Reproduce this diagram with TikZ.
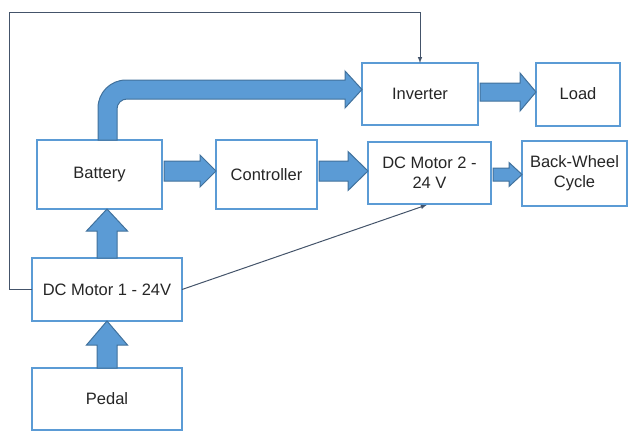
\documentclass[tikz,border=0pt]{standalone}
\usepackage{fontspec}
\setmainfont{Liberation Sans}
\usetikzlibrary{arrows, positioning, calc}
\definecolor{boxblue}{RGB}{91,155,213}
\definecolor{arrowedge}{RGB}{65,113,156}
\definecolor{signalgray}{RGB}{68,84,106}

% wide block arrow pointing right: source, target, vertical offset, half shaft, half head, head length
\newcommand{\fatright}[6]{%
  \draw[fatarrow] let \p1=($(#1.east)+(2pt,#3)$), \p2=(#2.west) in
    (\x1,\y1+#4) -- (\x2-#6,\y1+#4) -- (\x2-#6,\y1+#5) -- (\x2,\y1)
    -- (\x2-#6,\y1-#5) -- (\x2-#6,\y1-#4) -- (\x1,\y1-#4) -- cycle;}
% wide block arrow pointing up
\newcommand{\fatup}[6]{%
  \draw[fatarrow] let \p1=($(#1.north)+(#3,0pt)$), \p2=(#2.south) in
    (\x1-#4,\y1) -- (\x1-#4,\y2-#6) -- (\x1-#5,\y2-#6) -- (\x1,\y2)
    -- (\x1+#5,\y2-#6) -- (\x1+#4,\y2-#6) -- (\x1+#4,\y1) -- cycle;}

\begin{document}
\begin{tikzpicture}[
    x=1pt, y=-1pt,
    every node/.style={font=\fontsize{16.5}{20}\selectfont, text=black!85},
    block/.style={rectangle, draw=boxblue, line width=2pt, fill=white, align=center, outer sep=0pt, inner sep=2pt},
    fatarrow/.style={fill=boxblue, draw=arrowedge, line width=1pt, line join=miter},
    signal/.style={draw=signalgray, line width=1pt, -latex}
]
\useasboundingbox (0,0) rectangle (640,431);

\node[block, minimum width=125pt, minimum height=69pt, anchor=north west] (battery) at (37,140) {Battery};
\node[block, minimum width=101pt, minimum height=69pt, right=54pt of battery] (controller) {Controller};
\node[block, minimum width=123pt, minimum height=62pt, right=51pt of controller, yshift=1.5pt] (dcmotortwo) {DC Motor 2 -\\24 V};
\node[block, minimum width=105pt, minimum height=65pt, right=31pt of dcmotortwo] (backwheel) {Back-Wheel\\Cycle};

\node[block, minimum width=116pt, minimum height=62pt, anchor=north west] (inverter) at (362,63) {Inverter};
\node[block, minimum width=84pt, minimum height=63pt, right=58pt of inverter] (load) {Load};

\node[block, minimum width=150pt, minimum height=63pt, anchor=north west] (dcmotorone) at (32,258) {DC Motor 1 - 24V};
\node[block, minimum width=150pt, minimum height=62pt, below=47pt of dcmotorone] (pedal) {Pedal};

% power flow
\fatright{battery}{controller}{3.5pt}{10pt}{16pt}{16pt}
\fatright{controller}{dcmotortwo}{3.5pt}{10pt}{19.5pt}{20pt}
\fatright{dcmotortwo}{backwheel}{-1.5pt}{6.5pt}{12pt}{13pt}
\fatright{inverter}{load}{2pt}{9pt}{19pt}{16pt}
\fatup{dcmotorone}{battery}{0pt}{10pt}{20.5pt}{22pt}
\fatup{pedal}{dcmotorone}{0pt}{10pt}{20.5pt}{24pt}

% bent arrow battery -> inverter
\draw[fatarrow] let \p1=($(battery.north)+(8pt,0pt)$), \p2=($(inverter.west)+(0pt,4.5pt)$) in
  (\x1+9.5pt,\y1) -- (\x1+9.5pt,\y2-19.5pt) arc[start angle=180, end angle=90, radius=10pt]
  -- (\x2-17pt,\y2-9.5pt) -- (\x2-17pt,\y2-18.5pt) -- (\x2,\y2)
  -- (\x2-17pt,\y2+18.5pt) -- (\x2-17pt,\y2+9.5pt)
  -- (\x1+18.5pt,\y2+9.5pt) arc[start angle=90, end angle=180, radius=28pt]
  -- (\x1-9.5pt,\y1) -- cycle;

% signal lines
\draw[signal] (dcmotorone.west) -| (9,12) -| (inverter.north);
\draw[signal, shorten >=3pt] (dcmotorone.east) -- (dcmotortwo.south);

\end{tikzpicture}
\end{document}
